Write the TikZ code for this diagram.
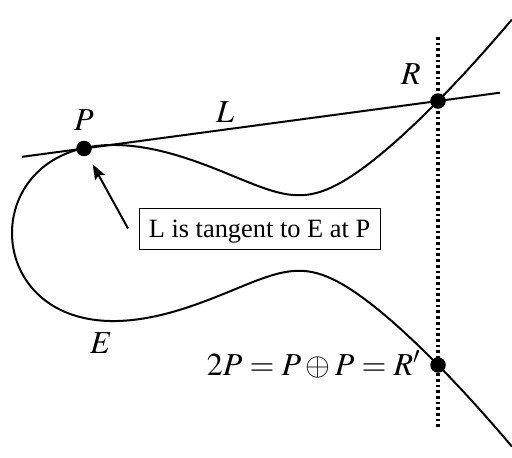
\documentclass[tikz,border=0pt]{standalone}
\usepackage{mathptmx}
\usepackage[no-math]{fontspec}
\setmainfont{Liberation Serif}
\usetikzlibrary{arrows.meta,calc}
\newcommand{\fsz}[1]{\fontsize{#1}{1.2\dimexpr #1\relax}\selectfont}
\begin{document}
\begin{tikzpicture}[x=0.5pt,y=-0.5pt,
  every node/.style={font=\fsz{13.2pt}},
  curveline/.style={line width=1pt, line join=round},
  dotpt/.style={circle,fill=black,inner sep=0pt,minimum size=7.75pt},
  lbl/.style={inner sep=0pt,anchor=base,font=\fsz{16pt}},
  tagbox/.style={draw,line width=0.5pt,inner sep=0pt,minimum width=120.5pt,minimum height=20.5pt,text height=9.5pt,text depth=1pt},
  pointer/.style={line width=1pt,-{Stealth[length=7.5pt,width=5.5pt,inset=1.2pt]},shorten >=9pt},
  vert/.style={line width=1.6pt,dash pattern=on 1.35pt off 1.5pt}]
\useasboundingbox (0,0) rectangle (512,457);
% curve E : v^2 = (x-12)(A(x-303.3)^2+4.93), parametrised by x = 12+t^2
\draw[curveline] plot[domain=-22.36:22.36, samples=321, variable=\t]
  ({12+\t*\t}, {233 - \t*sqrt((0.04453*(12+\t*\t-303.3))^2+4.93)});
% points
\node[dotpt] (P) at (84,148.5) {};
\node[dotpt] (R) at (438,101) {};
\node[dotpt] (Rp) at (438,365) {};
% tangent line L
\draw[curveline] ($(P.center)!-0.175!(R.center)$) -- ($(P.center)!1.175!(R.center)$);
% vertical dotted line
\draw[vert] ($(R.center)!-0.243!(Rp.center)$) -- ($(R.center)!1.243!(Rp.center)$);
% labels
\node[lbl] (lP) at (84,130) {$P$};
\node[lbl] (lL) at (225,122) {$L$};
\node[lbl] (lR) at (411,84) {$R$};
\node[lbl] (lE) at (101,353.5) {$E$};
\node[lbl,anchor=base east] (lRp) at (421,375.5) {$2P = P\oplus P = R'$};
% annotation box and arrow
\node[tagbox] (tag) at (259.5,228.5) {L is tangent to E at P};
\coordinate (as) at (128,228.5);
\draw[pointer] (as) -- (P.center);
\end{tikzpicture}
\end{document}
